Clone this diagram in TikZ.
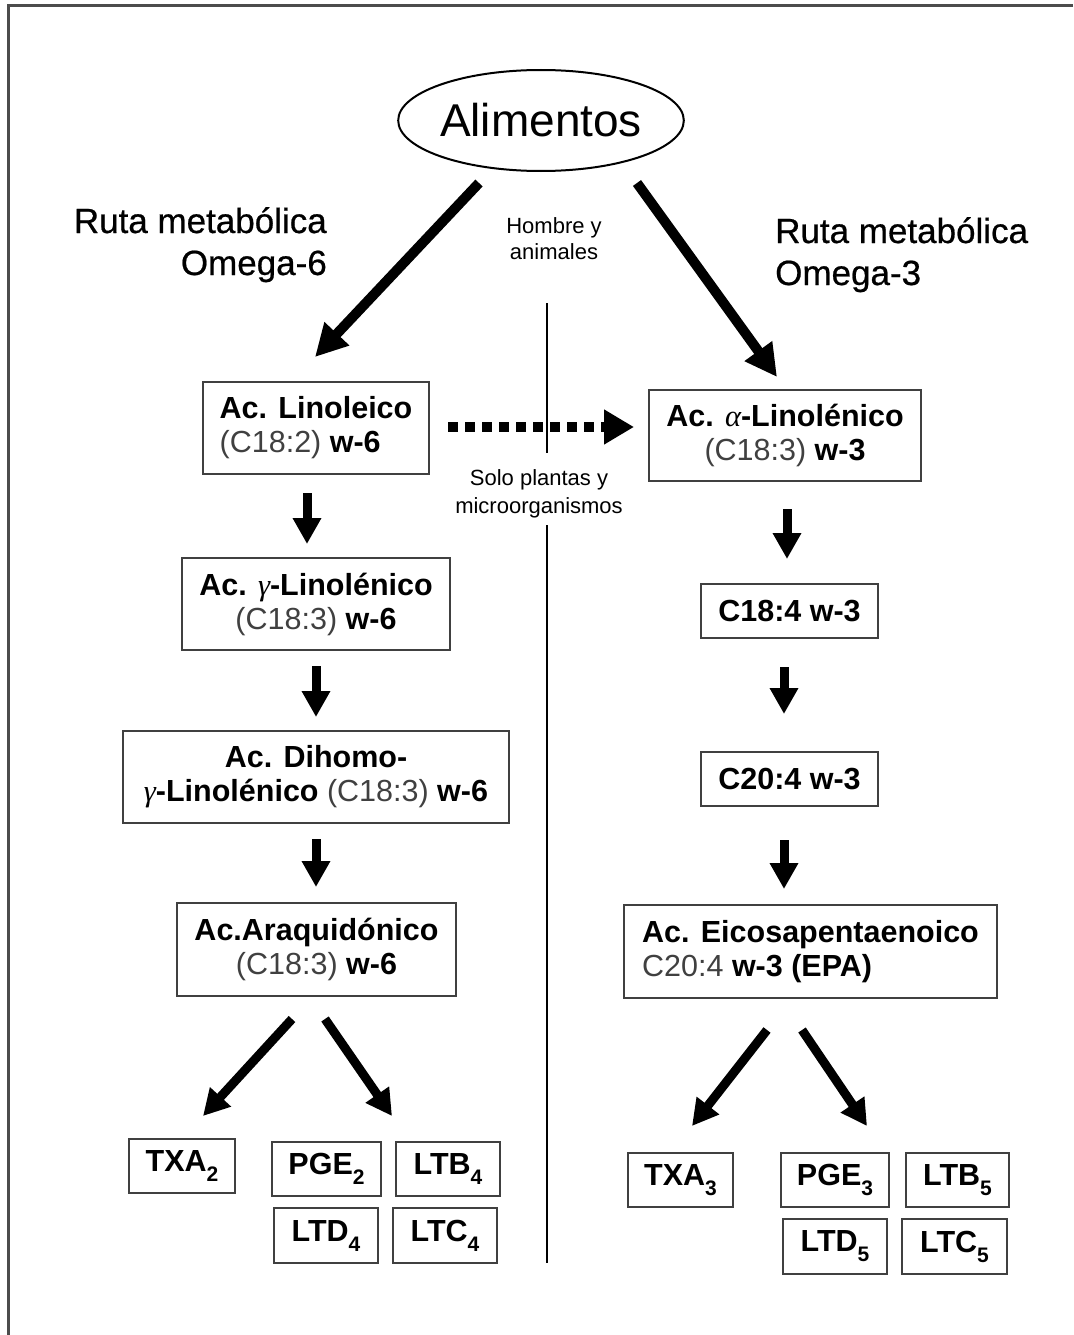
\documentclass[tikz,border=0pt]{standalone}
\usepackage{fontspec}
\setmainfont{Liberation Sans}
\newfontfamily\grk{Liberation Serif}
\newfontface\lblfont{Liberation Sans}[FakeBold=0.6]
\usetikzlibrary{arrows.meta,calc,shapes.geometric}
\newcommand{\thn}[1]{{\mdseries\color{black!75}#1}}
\newcommand{\gr}[1]{{\grk\mdseries\itshape #1}}
\newcommand{\sbs}[1]{\raisebox{-10pt}{\fontsize{21}{21}\selectfont #1}}
\begin{document}
\begin{tikzpicture}[x=1pt,y=-1pt,
  box/.style={draw=black!75, line width=2pt, inner sep=0pt, font=\fontsize{30.5}{34}\selectfont\bfseries},
  sbox/.style={box, minimum height=54pt},
  bigarrow/.style={line width=10pt, -{Triangle[length=32pt,width=32pt]}},
  midarrow/.style={line width=9pt, -{Triangle[length=26pt,width=27pt]}},
  dotarrow/.style={line width=10pt, dash pattern=on 10pt off 7pt, -{Triangle[length=30pt,width=33pt]}},
  lbl/.style={inner sep=0pt, font=\fontsize{35}{40}\lblfont},
  small/.style={inner sep=0pt, font=\fontsize{22}{26}\selectfont}
]
\useasboundingbox (0,0) rectangle (1073,1335);
% frame
\draw[line width=3pt, black!70] (1073,6) -- (8.5,6) -- (8.5,1335);
% divider
\draw[line width=1.5pt] (547,303) -- (547,453);
\draw[line width=1.5pt] (547,525) -- (547,1263);

% top ellipse
\node[draw, ellipse, line width=2pt, minimum width=278pt, minimum height=101pt, inner sep=0pt,
  font=\fontsize{46}{50}\selectfont] (alim) at (541,120.5) {Alimentos};

% labels
\node[lbl, anchor=base east] (r6a) at (327,233) {Ruta metabólica};
\node[lbl, anchor=base east] (r6b) at (327,275) {Omega-6};
\node[lbl, anchor=base west] (r3a) at (775,243) {Ruta metabólica};
\node[lbl, anchor=base west] (r3b) at (775,285) {Omega-3};
\node[small, anchor=base] (ha) at (554,233) {Hombre y};
\node[small, anchor=base] (hb) at (554,259) {animales};
\node[small, anchor=base] (sa) at (539,485) {Solo plantas y};
\node[small, anchor=base] (sb) at (539,513) {microorganismos};

% omega-6 chain
\node[box, minimum width=226pt, minimum height=92pt, align=left] (lin) at (316,428)
  {Ac. Linoleico\\\thn{(C18:2)} w-6};
\node[box, minimum width=268pt, minimum height=92pt, align=center] (glin) at (316,604)
  {Ac. \gr{γ}-Linolénico\\\thn{(C18:3)} w-6};
\node[box, minimum width=386pt, minimum height=92pt, align=center] (dih) at (316,777)
  {Ac. Dihomo-\\\gr{γ}-Linolénico \thn{(C18:3)} w-6};
\node[box, minimum width=279pt, minimum height=93pt, align=center] (ara) at (316.5,949.5)
  {Ac.Araquidónico\\\thn{(C18:3)} w-6};

% omega-3 chain
\node[box, minimum width=272pt, minimum height=91pt, align=center] (alin) at (785,435.5)
  {Ac. \gr{α}-Linolénico\\\thn{(C18:3)} w-3};
\node[sbox, minimum width=177pt] (c184) at (789.5,611) {C18:4 w-3};
\node[sbox, minimum width=177pt] (c204) at (789.5,779) {C20:4 w-3};
\node[box, minimum width=373pt, minimum height=93pt, align=left] (epa) at (810.5,951.5)
  {Ac. Eicosapentaenoico\\\thn{C20:4} w-3 (EPA)};

% products omega-6
\node[sbox, minimum width=106pt] (txa2) at (182,1166) {TXA\sbs{2}};
\node[sbox, minimum width=109pt] (pge2) at (326.5,1169) {PGE\sbs{2}};
\node[sbox, minimum width=104pt] (ltb4) at (448,1169) {LTB\sbs{4}};
\node[sbox, minimum width=104pt, minimum height=55pt] (ltd4) at (326,1235.5) {LTD\sbs{4}};
\node[sbox, minimum width=104pt, minimum height=55pt] (ltc4) at (445,1235.5) {LTC\sbs{4}};

% products omega-3
\node[sbox, minimum width=105pt] (txa3) at (680.5,1180) {TXA\sbs{3}};
\node[sbox, minimum width=108pt] (pge3) at (835,1180) {PGE\sbs{3}};
\node[sbox, minimum width=103pt] (ltb5) at (957.5,1180) {LTB\sbs{5}};
\node[sbox, minimum width=104pt, minimum height=55pt] (ltd5) at (835,1246.5) {LTD\sbs{5}};
\node[sbox, minimum width=105pt, minimum height=55pt] (ltc5) at (954.5,1246.5) {LTC\sbs{5}};

% arrows from food
\draw[bigarrow] ($(alim.south)+(-62,11)$) -- ($(lin.north)+(-1,-24)$);
\draw[bigarrow] ($(alim.south)+(96,11)$) -- ($(alin.north)+(-8,-12)$);
% conversion omega-6 -> omega-3
\draw[dotarrow] ($(lin.east)+(18,-1)$) -- ($(alin.west)+(-14,-8.5)$);

% omega-6 chain arrows
\draw[midarrow] ($(lin.south)+(-9,18)$) -- ($(glin.north)+(-9,-13)$);
\draw[midarrow] ($(glin.south)+(0,15)$) -- ($(dih.north)+(0,-13)$);
\draw[midarrow] ($(dih.south)+(0,15)$) -- ($(ara.north)+(-0.5,-15)$);
% omega-3 chain arrows
\draw[midarrow] ($(alin.south)+(2,27)$) -- ($(c184.north)+(-2.5,-24)$);
\draw[midarrow] ($(c184.south)+(-5.5,28)$) -- ($(c204.north)+(-5.5,-37)$);
\draw[midarrow] ($(c204.south)+(-5.5,33)$) -- ($(epa.north)+(-26.5,-15)$);

% products arrows
\draw[midarrow] ($(ara.south)+(-24.5,22)$) -- ($(txa2.north)+(21,-22)$);
\draw[midarrow] ($(ara.south)+(8.5,22)$) -- ($(ltb4.north)+(-56,-25)$);
\draw[midarrow] ($(epa.south)+(-43.5,31)$) -- ($(txa3.north)+(11.5,-26)$);
\draw[midarrow] ($(epa.south)+(-8.5,31)$) -- ($(pge3.north)+(32,-26)$);
\end{tikzpicture}
\end{document}
